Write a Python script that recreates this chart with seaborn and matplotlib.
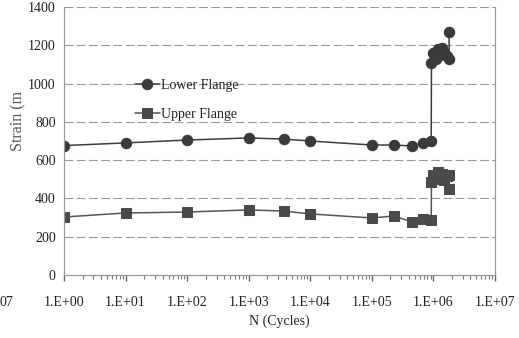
import matplotlib
matplotlib.use("Agg")
import matplotlib.pyplot as plt
import seaborn as sns
import pandas as pd
from matplotlib.ticker import LogLocator, FixedLocator, NullFormatter

# Strain readings against loading cycles (log scale)
lower_cycles = [1, 10, 100, 1000, 3700, 1.0e4, 1.0e5, 2.3e5, 4.5e5, 6.8e5, 9.2e5,
                9.3e5, 1.0e6, 1.1e6, 1.2e6, 1.3e6, 1.4e6, 1.5e6, 1.65e6, 1.8e6, 1.8e6]
lower_strain = [676, 690, 705, 716, 710, 700, 679, 679, 674, 690, 700,
                1108, 1160, 1130, 1180, 1150, 1186, 1165, 1145, 1128, 1269]

upper_cycles = [1, 10, 100, 1000, 3700, 1.0e4, 1.0e5, 2.3e5, 4.5e5, 6.8e5, 9.2e5,
                9.3e5, 1.0e6, 1.1e6, 1.2e6, 1.3e6, 1.4e6, 1.5e6, 1.65e6, 1.8e6, 1.8e6]
upper_strain = [303, 324, 329, 340, 334, 319, 298, 308, 277, 293, 287,
                486, 522, 500, 538, 510, 530, 495, 515, 522, 450]

y_ticks = [0, 200, 400, 600, 800, 1000, 1200, 1400]
x_ticks = [1, 10, 100, 1e3, 1e4, 1e5, 1e6, 1e7]
x_tick_labels = ["1.E+00", "1.E+01", "1.E+02", "1.E+03", "1.E+04", "1.E+05", "1.E+06", "1.E+07"]

lower_df = pd.DataFrame({"N": lower_cycles, "strain": lower_strain})
upper_df = pd.DataFrame({"N": upper_cycles, "strain": upper_strain})

sns.set_style("white")
plt.rcParams["font.family"] = ["Liberation Serif", "DejaVu Serif"]
plt.rcParams.update({
    "xtick.bottom": True,
    "xtick.minor.bottom": True,
    "xtick.major.bottom": True,
    "xtick.direction": "out",
})

W, H = 519, 338
fig = plt.figure(figsize=(W / 100, H / 100), dpi=100)
x0, x1, y0, y1 = 64, 495, 7, 275
ax = fig.add_axes([x0 / W, 1 - y1 / H, (x1 - x0) / W, (y1 - y0) / H])

line_col = "#3d3d3d"
sns.lineplot(data=lower_df, x="N", y="strain", ax=ax, estimator=None, sort=False,
             color=line_col, lw=1.1, marker="o", markersize=7.5,
             markerfacecolor="#3a3a3a", markeredgecolor="#3a3a3a",
             label="Lower Flange")
sns.lineplot(data=upper_df, x="N", y="strain", ax=ax, estimator=None, sort=False,
             color="#555555", lw=1.1, marker="s", markersize=7,
             markerfacecolor="#4a4a4a", markeredgecolor="#4a4a4a",
             label="Upper Flange")

ax.set_xscale("log")
ax.set_xlim(1, 1e7)
ax.set_ylim(0, 1400)

ax.xaxis.set_major_locator(FixedLocator(x_ticks))
ax.set_xticklabels(x_tick_labels)
ax.xaxis.set_minor_locator(LogLocator(base=10, subs=range(2, 10), numticks=20))
ax.xaxis.set_minor_formatter(NullFormatter())
ax.set_yticks(y_ticks)
ax.set_yticklabels([str(v) for v in y_ticks])

ax.tick_params(axis="x", which="major", bottom=True, direction="out", length=4,
               width=1.0, color="#666666", pad=11, labelsize=10, labelcolor="#222222")
ax.tick_params(axis="x", which="minor", bottom=True, direction="out", length=3,
               width=0.8, color="#777777")
ax.tick_params(axis="y", which="major", left=False, length=0, pad=6, labelsize=10,
               labelcolor="#222222")

ax.grid(axis="y", which="major", color="#9a9a9a", lw=0.8, linestyle=(0, (8, 3)))
ax.grid(axis="x", which="both", visible=False)
ax.set_axisbelow(True)

for side in ("left", "right", "bottom"):
    ax.spines[side].set_visible(True)
    ax.spines[side].set_color("#9a9a9a")
    ax.spines[side].set_linewidth(0.9)
ax.spines["top"].set_visible(False)

ax.set_xlabel("N (Cycles)", fontsize=10, color="#222222", labelpad=4)
ax.set_ylabel("")
fig.text(18 / W, 1 - 121 / H, "Strain (m", rotation=90, ha="center", va="center",
         fontsize=11.5, color="#555555")
fig.text(0, 1 - 302 / H, "07", ha="left", va="center", fontsize=10, color="#222222")

ax.legend(loc="upper left", bbox_to_anchor=((128 - x0) / (x1 - x0), (y1 - 72) / (y1 - y0)),
          frameon=False, borderpad=0, handlelength=1.8, handletextpad=0.1,
          labelspacing=1.15, fontsize=10, labelcolor="#222222")

fig.savefig("out.png", dpi=100, facecolor="white")
